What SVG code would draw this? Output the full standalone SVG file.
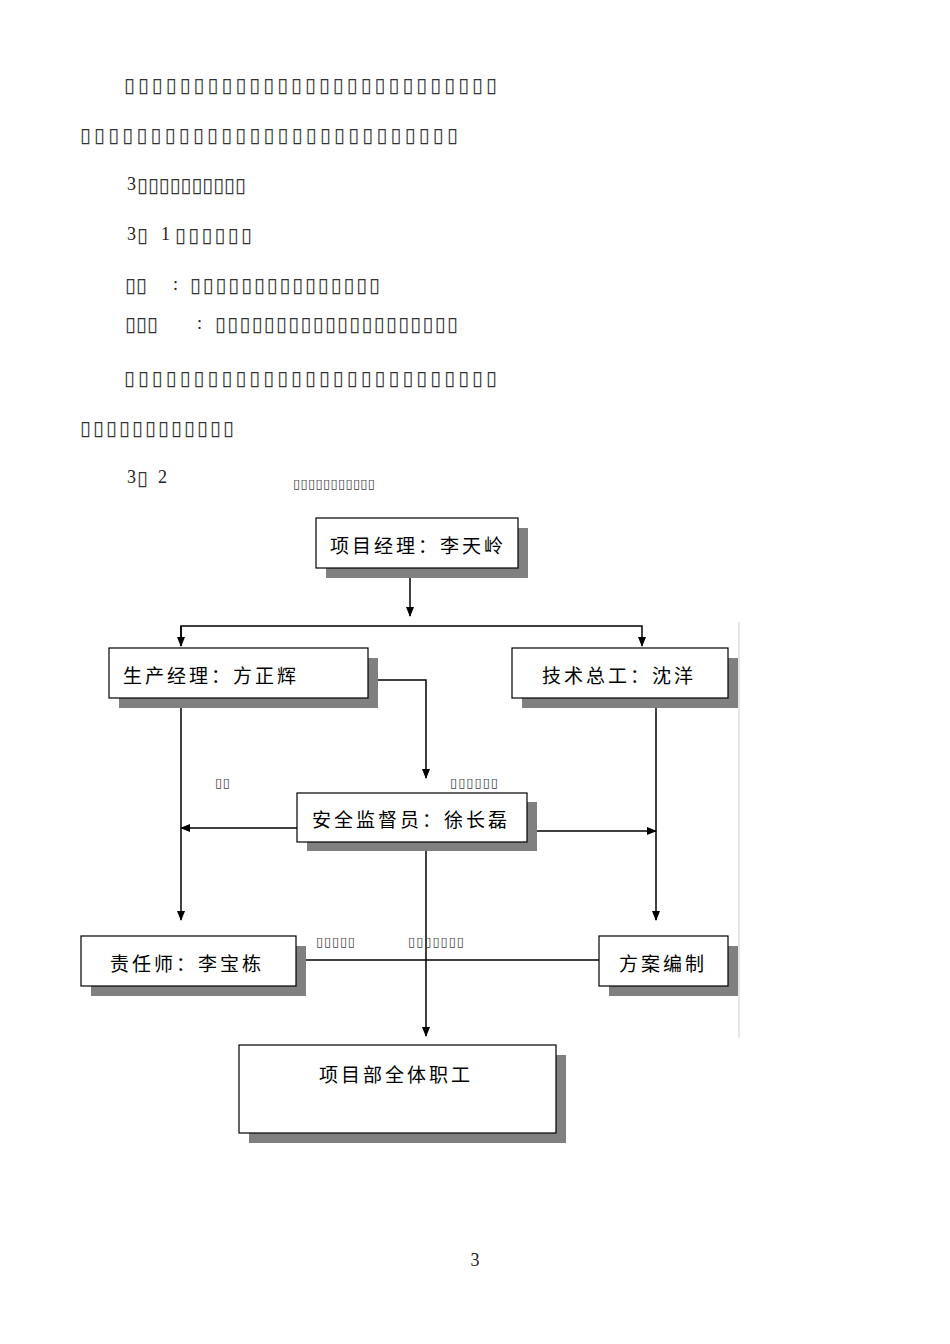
<svg xmlns="http://www.w3.org/2000/svg" width="950" height="1344" viewBox="0 0 950 1344">
<style>
.t{font-family:"DejaVu Sans","Liberation Serif",serif;font-size:20px;fill:#333}
.n{font-family:"Liberation Serif",serif;font-size:18px;fill:#222}
.s{font-family:"DejaVu Sans",sans-serif;font-size:13px;fill:#444}
.b{fill:#fff;stroke:#000;stroke-width:1.2}
.sh{fill:#808080}
.l{font-family:"Noto Sans CJK SC",sans-serif;font-size:19px;fill:#000;letter-spacing:3px}
.c{stroke:#000;stroke-width:1.5;fill:none}
</style>
<defs><marker id="a" markerWidth="10" markerHeight="10" refX="9" refY="5" orient="auto" markerUnits="userSpaceOnUse"><path d="M0,1 L10,5 L0,9z" fill="#000"/></marker></defs>
<rect width="950" height="1344" fill="#fff"/>
<g id="body">
<text class="t" x="124" y="92" textLength="373" lengthAdjust="spacing">▯▯▯▯▯▯▯▯▯▯▯▯▯▯▯▯▯▯▯▯▯▯▯▯▯▯▯</text>
<text class="t" x="80" y="142" textLength="378" lengthAdjust="spacing">▯▯▯▯▯▯▯▯▯▯▯▯▯▯▯▯▯▯▯▯▯▯▯▯▯▯▯</text>
<text class="n" x="127" y="190">3</text><text class="t" x="137" y="192" textLength="109" lengthAdjust="spacing">▯▯▯▯▯▯▯▯▯▯</text>
<text class="n" x="127" y="240">3</text><text class="t" x="137" y="242">▯</text><text class="n" x="161" y="240">1</text><text class="t" x="175" y="242" textLength="77" lengthAdjust="spacing">▯▯▯▯▯▯</text>
<text class="t" x="125" y="292">▯▯</text><text class="n" x="173" y="290">:</text><text class="t" x="190" y="292" textLength="190" lengthAdjust="spacing">▯▯▯▯▯▯▯▯▯▯▯▯▯▯▯</text>
<text class="t" x="125" y="331">▯▯▯</text><text class="n" x="197" y="329">:</text><text class="t" x="215" y="331" textLength="243" lengthAdjust="spacing">▯▯▯▯▯▯▯▯▯▯▯▯▯▯▯▯▯▯▯▯</text>
<text class="t" x="124" y="385" textLength="373" lengthAdjust="spacing">▯▯▯▯▯▯▯▯▯▯▯▯▯▯▯▯▯▯▯▯▯▯▯▯▯▯▯</text>
<text class="t" x="80" y="435" textLength="154" lengthAdjust="spacing">▯▯▯▯▯▯▯▯▯▯▯▯</text>
<text class="n" x="127" y="483">3</text><text class="t" x="137" y="485">▯</text><text class="n" x="158" y="483">2</text>
<text class="s" x="293" y="488" textLength="82" lengthAdjust="spacing">▯▯▯▯▯▯▯▯▯▯▯</text>
<text class="n" x="475" y="1266" font-size="14" text-anchor="middle">3</text>
</g>
<g id="connectors">
<path class="c" d="M410,571 V616" marker-end="url(#a)"/>
<path class="c" d="M181,646 V626 H642 V646" marker-end="url(#a)"/>
<path class="c" d="M181,626 V646" marker-end="url(#a)"/>
<path class="c" d="M368,680 H426 V778" marker-end="url(#a)"/>
<path class="c" d="M181,704 V920" marker-end="url(#a)"/>
<path class="c" d="M656,704 V920" marker-end="url(#a)"/>
<path class="c" d="M297,828 H181" marker-end="url(#a)"/>
<path class="c" d="M527,831 H656" marker-end="url(#a)"/>
<path class="c" d="M426,851 V1036" marker-end="url(#a)"/>
<path class="c" d="M296,960 H599"/>
<path d="M739,622 V1038" stroke="#ccc" stroke-width="1"/>
<text class="s" x="215" y="787" textLength="15" lengthAdjust="spacing">▯▯</text>
<text class="s" x="450" y="787" textLength="48" lengthAdjust="spacing">▯▯▯▯▯▯</text>
<text class="s" x="316" y="946" textLength="39" lengthAdjust="spacing">▯▯▯▯▯</text>
<text class="s" x="408" y="946" textLength="56" lengthAdjust="spacing">▯▯▯▯▯▯▯</text>
</g>
<g id="n1"><rect class="sh" x="326" y="528" width="202" height="50"/><rect class="b" x="316" y="518" width="202" height="50"/><text class="l" x="330" y="553">项目经理：李天岭</text></g>
<g id="n2"><rect class="sh" x="119" y="658" width="259" height="50"/><rect class="b" x="109" y="648" width="259" height="50"/><text class="l" x="123" y="683">生产经理：方正辉</text></g>
<g id="n3"><rect class="sh" x="522" y="658" width="216" height="50"/><rect class="b" x="512" y="648" width="216" height="50"/><text class="l" x="542" y="683">技术总工：沈洋</text></g>
<g id="n4"><rect class="sh" x="307" y="802" width="230" height="49"/><rect class="b" x="297" y="793" width="230" height="49"/><text class="l" x="312" y="827">安全监督员：徐长磊</text></g>
<g id="n5"><rect class="sh" x="91" y="946" width="215" height="50"/><rect class="b" x="81" y="936" width="215" height="50"/><text class="l" x="110" y="971">责任师：李宝栋</text></g>
<g id="n6"><rect class="sh" x="609" y="946" width="129" height="50"/><rect class="b" x="599" y="936" width="129" height="50"/><text class="l" x="619" y="971">方案编制</text></g>
<g id="n7"><rect class="sh" x="249" y="1055" width="317" height="88"/><rect class="b" x="239" y="1045" width="317" height="88"/><text class="l" x="319" y="1082" letter-spacing="0">项目部全体职工</text></g>
</svg>
